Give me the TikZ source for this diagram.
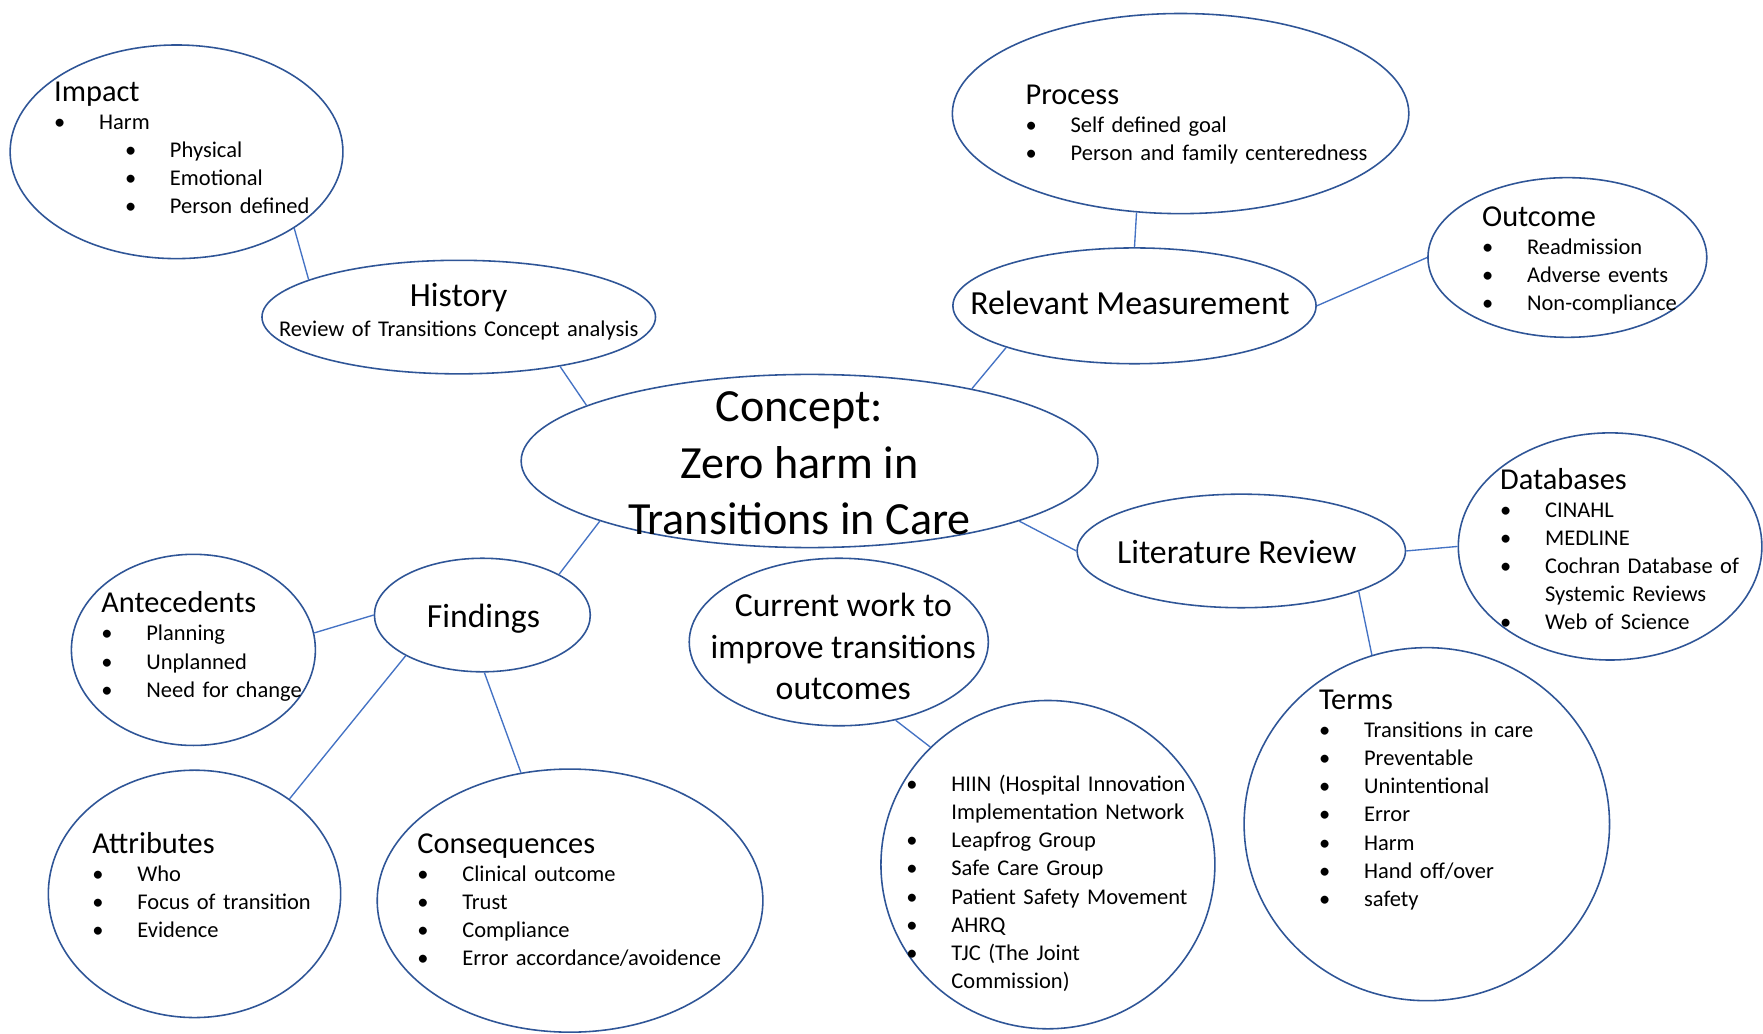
\documentclass[tikz,border=0pt]{standalone}
\usepackage{fontspec}
\setmainfont{Carlito}
\usepackage{xcolor}
\usepackage{tikz}
\usetikzlibrary{shapes.geometric}
\definecolor{rim}{HTML}{2F5597}
\definecolor{wire}{HTML}{4472C4}
\newcommand{\bul}{\makebox[40pt][l]{\textbullet}}
\newcommand{\hd}{\fontsize{27}{25}\selectfont}

\begin{document}
\begin{tikzpicture}[x=1pt, y=-1pt,
    bubble/.style={draw=rim, line width=1.4pt, ellipse, inner sep=0pt},
    link/.style={draw=wire, line width=1.2pt},
    list/.style={anchor=base west, inner sep=0pt, text width=400pt,
                 align=left, font=\fontsize{20}{25}\selectfont},
    big/.style={inner sep=0pt, align=center,
                font=\fontsize{30}{37}\selectfont},
  ]
  \path[use as bounding box, fill=white] (0,0) rectangle (1568,919);

  \node[bubble, minimum width=296pt, minimum height=190pt] (imp) at (157,135) {};
  \node[bubble, minimum width=350pt, minimum height=101pt] (hist) at (408,282) {};
  \node[bubble, minimum width=406pt, minimum height=178pt] (proc) at (1050,101) {};
  \node[bubble, minimum width=323pt, minimum height=103pt] (meas) at (1009,272) {};
  \node[bubble, minimum width=248pt, minimum height=142pt] (outc) at (1394,229) {};
  \node[bubble, minimum width=513pt, minimum height=154pt] (conc) at (720,410) {};
  \node[bubble, minimum width=270pt, minimum height=202pt] (db) at (1432,486) {};
  \node[bubble, minimum width=292pt, minimum height=101pt] (lit) at (1104,490) {};
  \node[bubble, minimum width=217pt, minimum height=170pt] (ante) at (172,578) {};
  \node[bubble, minimum width=192pt, minimum height=101pt] (find) at (429,547) {};
  \node[bubble, minimum width=266pt, minimum height=149pt] (cur) at (746,571) {};
  \node[bubble, minimum width=325pt, minimum height=314pt] (terms) at (1269,733) {};
  \node[bubble, minimum width=260pt, minimum height=220pt] (attr) at (173,795) {};
  \node[bubble, minimum width=343pt, minimum height=234pt] (cons) at (507,801) {};
  \node[bubble, minimum width=297pt, minimum height=292pt] (hiin) at (932,769) {};

  \draw[link] (imp.327) -- (hist.166);
  \draw[link] (hist.334) -- (conc.166);
  \draw[link] (proc.246) -- (meas.90);
  \draw[link] (meas.0) -- (outc.180);
  \draw[link] (meas.198) -- (conc.24);
  \draw[link] (conc.344) -- (lit.180);
  \draw[link] (lit.0) -- (db.180);
  \draw[link] (lit.341) -- (terms.108);
  \draw[link] (conc.196) -- (find.28);
  \draw[link] (find.180) -- (ante.8);
  \draw[link] (find.208) -- (attr.45);
  \draw[link] (find.272) -- (cons.111);
  \draw[link] (cur.306) -- (hiin.135);

  \node[big, font=\fontsize{41}{50}\selectfont] (conctxt) at (711,412)
    {Concept:\\ Zero harm in\\ Transitions in Care};
  \node[list, anchor=base, align=center, text width=340pt] (histtxt) at (408,273)
    {{\fontsize{30}{28}\selectfont History}\\[1pt]
     Review of Transitions Concept analysis};
  \node[big, anchor=base] (meastxt) at (1005,280) {Relevant Measurement};
  \node[big, anchor=base] (littxt) at (1100,501) {Literature Review};
  \node[big, anchor=base] (findtxt) at (430,558) {Findings};
  \node[big] (curtxt) at (750,575) {Current work to\\ improve transitions\\ outcomes};

  \node[list] (imptxt) at (48,90) {{\hd Impact}\\ \bul Harm\\
    \hspace*{63pt}\bul Physical\\ \hspace*{63pt}\bul Emotional\\
    \hspace*{63pt}\bul Person defined};
  \node[list] (proctxt) at (912,93) {{\hd Process}\\ \bul Self defined goal\\
    \bul Person and family centeredness};
  \node[list] (outctxt) at (1318,201) {{\hd Outcome}\\ \bul Readmission\\
    \bul Adverse events\\ \bul Non-compliance};
  \node[list] (dbtxt) at (1334,435) {{\hd Databases}\\ \bul CINAHL\\ \bul MEDLINE\\
    \bul Cochran Database of\\ \hspace*{40pt}Systemic Reviews\\ \bul Web of Science};
  \node[list] (antetxt) at (90,545) {{\hd Antecedents}\\ \bul Planning\\
    \bul Unplanned\\ \bul Need for change};
  \node[list] (termstxt) at (1173,631) {{\hd Terms}\\ \bul Transitions in care\\
    \bul Preventable\\ \bul Unintentional\\ \bul Error\\ \bul Harm\\
    \bul Hand off/over\\ \bul safety};
  \node[list] (attrtxt) at (82,759) {{\hd Attributes}\\ \bul Who\\
    \bul Focus of transition\\ \bul Evidence};
  \node[list] (constxt) at (371,759) {{\hd Consequences}\\ \bul Clinical outcome\\
    \bul Trust\\ \bul Compliance\\ \bul Error accordance/avoidence};
  \node[list] (hiintxt) at (806,704) {\bul HIIN (Hospital Innovation\\
    \hspace*{40pt}Implementation Network\\ \bul Leapfrog Group\\
    \bul Safe Care Group\\ \bul Patient Safety Movement\\ \bul AHRQ\\
    \bul TJC (The Joint\\ \hspace*{40pt}Commission)};
\end{tikzpicture}
\end{document}
